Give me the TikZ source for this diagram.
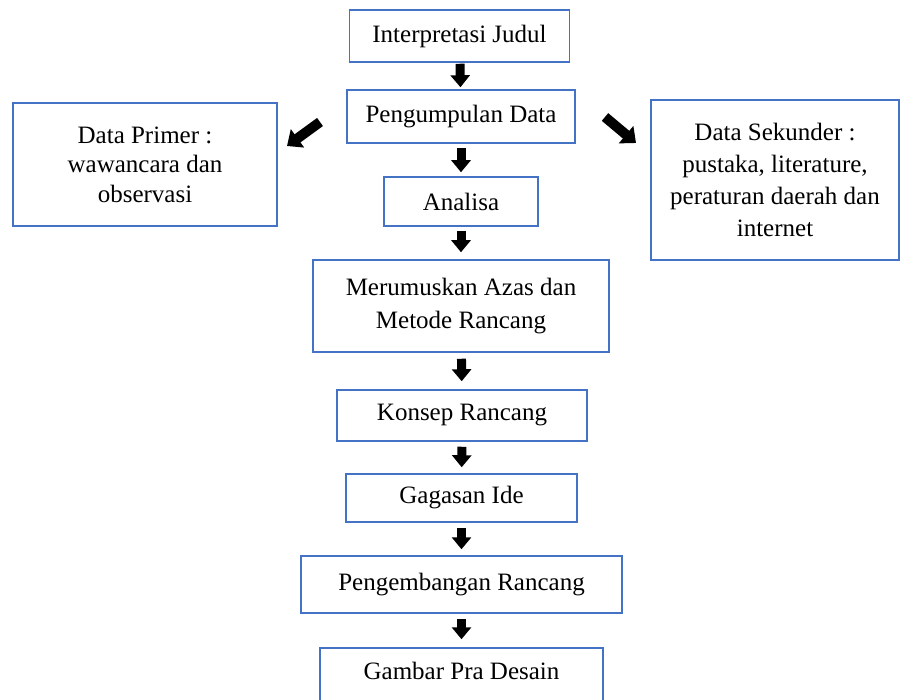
\documentclass[tikz,border=0pt]{standalone}
\usepackage{fontspec}
\setmainfont{Liberation Serif}
\usepackage{tikz}
\usetikzlibrary{arrows.meta}
\definecolor{boxblue}{RGB}{68,114,196}

\begin{document}
\begin{tikzpicture}[x=1pt,y=-1pt]
\tikzset{box/.style = {shape=rectangle,draw=boxblue,line width=1.5pt,align=center,inner sep=0pt,font=\fontsize{25}{30}\selectfont}}
\tikzset{blok/.style = {line width=9pt,-{Triangle[width=19pt,length=12pt]}}}
\tikzset{miring/.style = {line width=10pt,-{Triangle[width=22pt,length=13pt]}}}
\useasboundingbox (0,0) rectangle (901,700);

% Alur perancangan
\node[box,minimum width=220pt,minimum height=52pt] (A) at (459.5,36) {Interpretasi Judul};
\node[box,minimum width=228pt,minimum height=53pt] (B) at (461,116.5) {Pengumpulan Data};
\node[box,minimum width=154pt,minimum height=49pt] (C) at (461,201.5) {Analisa};
\node[box,minimum width=296pt,minimum height=92pt,font=\fontsize{25}{33}\selectfont] (D) at (461,306) {Merumuskan Azas dan\\Metode Rancang};
\node[box,minimum width=250pt,minimum height=51pt] (E) at (462,415.5) {Konsep Rancang};
\node[box,minimum width=231pt,minimum height=48pt] (F) at (461.5,498) {Gagasan Ide};
\node[box,minimum width=321pt,minimum height=57pt] (G) at (461.5,584.5) {Pengembangan Rancang};
\node[box,minimum width=283pt,minimum height=62pt,text height=17pt,text depth=17pt] (H) at (461.5,679) {Gambar Pra Desain};
\node[box,minimum width=264pt,minimum height=123pt,font=\fontsize{25}{29.5}\selectfont] (P) at (145,164.5) {Data Primer :\\wawancara dan\\observasi};
\node[box,minimum width=248pt,minimum height=160pt,font=\fontsize{25}{31.7}\selectfont] (S) at (775,180) {Data Sekunder :\\pustaka, literature,\\peraturan daerah dan\\internet};

\coordinate (P1) at (320,122);
\coordinate (P2) at (287,146);
\coordinate (S1) at (605,117);
\coordinate (S2) at (636,143);

\draw[blok,shorten <=1pt,shorten >=2pt] (A) -- (B);
\draw[blok,shorten <=4pt,shorten >=4pt] (B) -- (C);
\draw[blok,shorten <=4pt,shorten >=7pt] (C) -- (D);
\draw[blok,shorten <=6pt,shorten >=8pt] (D) -- (E);
\draw[blok,shorten <=5pt,shorten >=6pt] (E) -- (F);
\draw[blok,shorten <=5pt,shorten >=6pt] (F) -- (G);
\draw[blok,shorten <=5pt,shorten >=8pt] (G) -- (H);
\draw[miring] (P1) -- (P2);
\draw[miring] (S1) -- (S2);

\end{tikzpicture}
\end{document}
